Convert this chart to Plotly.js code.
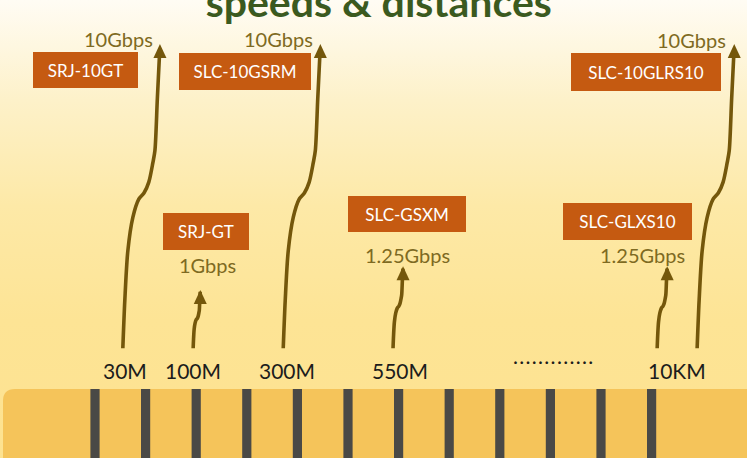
<!DOCTYPE html>
<html><head><meta charset="utf-8">
<script src="https://cdn.plot.ly/plotly-3.0.1.min.js"></script>
<style>
html,body{margin:0;padding:0;width:747px;height:458px;overflow:hidden;
background:linear-gradient(to bottom,#fffcf4 0%,#fdf1c9 22%,#fde9a7 45%,#fde495 70%,#fde290 100%);}
#chart{width:747px;height:458px;}
</style></head><body><div id="chart"></div>
<script>
// ---- data ----
const distances = ['30M', '100M', '300M', '550M', '10KM'];
const distancePos = [0.59, 1.94, 3.79, 6.03, 11.5];          // position on the ruler (tick index)
const products = ['SRJ-10GT', 'SRJ-GT', 'SLC-10GSRM', 'SLC-GSXM', 'SLC-GLXS10', 'SLC-10GLRS10'];
const speedsGbps = [10, 1, 10, 1.25, 1.25, 10];
const speedLabels = ['10Gbps', '1Gbps', '10Gbps', '1.25Gbps', '1.25Gbps', '10Gbps'];
const productPos = [0.55, 1.94, 3.72, 5.89, 11.11, 11.9];     // arrow foot on the ruler (tick index)
const rulerMarks = [0, 1, 2, 3, 4, 5, 6, 7, 8, 9, 10, 11];
const baseGbps = 0.58;
const moreLabel = '.\u200A.\u200A.\u200A.\u200A.\u200A.\u200A.\u200A.\u200A.\u200A.\u200A.\u200A.\u200A.';

// ---- layout helpers (pixel geometry of the figure) ----
const W = 747, H = 458;
const PX_TICK = 50.6, X0 = 95;          // ruler tick spacing / first tick
const PX_DEC = 246, Y1 = 290;           // pixels per decade / pixel row of 1 Gbps
const px = x => x / W, py = y => 1 - y / H;
const arrowColor = '#74570b';
const boxColor = '#c55a11';
const labelColor = '#7e6a22';

const boxGeom = [[85.5,70,105,36],[206,231.5,86,37],[245,71.5,132,37],[407,214,118,36],[627.5,221.5,129,37],[646,72,150,38]];
const speedGeom = [[118,39],[207,265],[278,39],[407,255],[642,255],[691,40]];
const profile = [[0,0],[0.158,0.054],[0.32,0.135],[0.43,0.27],[0.49,0.43],[0.51,0.57],[0.546,0.70],[0.61,0.81],[0.65,0.865],[0.82,0.93],[0.97,0.99]];

const traces = [];
products.forEach((p, i) => {
  const lb = Math.log10(baseGbps), lt = Math.log10(speedsGbps[i]);
  const hPx = (lt - lb) * PX_DEC;
  const shift = 0.122 * hPx / PX_TICK;
  const xs = profile.map(q => productPos[i] + q[1] * shift);
  const ys = profile.map(q => Math.pow(10, lb + q[0] * (lt - lb)));
  traces.push({type:'scatter', mode:'lines', x:xs, y:ys, hoverinfo:'skip',
    line:{color:arrowColor, width:3.6, shape:'spline', smoothing:0.8}});
  const tx = productPos[i] + shift;
  const hx = 6.5 / PX_TICK, hy = 14 / PX_DEC;
  traces.push({type:'scatter', mode:'lines', fill:'toself', fillcolor:arrowColor, hoverinfo:'skip',
    x:[tx, tx - hx, tx + hx, tx], y:[speedsGbps[i], Math.pow(10, lt - hy), Math.pow(10, lt - hy), speedsGbps[i]],
    line:{width:0, color:arrowColor}});
});

const shapes = [];
const stripTop = py(389), rx = 12 / W, ry = 12 / H, sx = 3 / W;
shapes.push({type:'path', xref:'paper', yref:'paper', layer:'below',
  path:`M ${sx},0 L ${sx},${stripTop - ry} Q ${sx},${stripTop} ${sx + rx},${stripTop} L 1.01,${stripTop} L 1.01,0 Z`,
  fillcolor:'#f5c45a', line:{width:0}});
rulerMarks.forEach(m => {
  const hw = 4.6 / PX_TICK;
  shapes.push({type:'rect', xref:'x', yref:'paper', x0:m - hw, x1:m + hw, y0:0, y1:stripTop,
    fillcolor:'#4a4946', line:{width:0}, layer:'below'});
});

const annotations = [];
products.forEach((p, i) => {
  const g = boxGeom[i];
  annotations.push({text:p, xref:'paper', yref:'paper', x:px(g[0]), y:py(g[1]), xanchor:'center', yanchor:'middle',
    showarrow:false, width:g[2], height:g[3], bgcolor:boxColor, borderpad:0, borderwidth:0,
    font:{family:'Lato', size:17, color:'#ffffff'}});
  const s = speedGeom[i];
  annotations.push({text:speedLabels[i], xref:'paper', yref:'paper', x:px(s[0]), y:py(s[1]), xanchor:'center', yanchor:'middle',
    showarrow:false, font:{family:'Lato', size:20, color:labelColor}});
});
distances.forEach((d, i) => {
  annotations.push({text:d, xref:'x', yref:'paper', x:distancePos[i], y:py(370), xanchor:'center', yanchor:'middle',
    showarrow:false, font:{family:'Lato', size:21, color:'#1c1c1c'}});
});
annotations.push({text:moreLabel, xref:'paper', yref:'paper', x:px(553), y:py(355), xanchor:'center', yanchor:'middle',
  showarrow:false, font:{family:'Lato', size:21, color:'#1c1c1c'}});

const layout = {
  width:W, height:H, margin:{l:0, r:0, t:0, b:0},
  paper_bgcolor:'rgba(0,0,0,0)', plot_bgcolor:'rgba(0,0,0,0)', showlegend:false,
  title:{text:'speeds & distances', x:0.507, xanchor:'center', y:0.995, yanchor:'middle', yref:'container',
    font:{family:'Lato', size:41, weight:'bold', color:'#3b5a1f'}},
  xaxis:{range:[(0 - X0) / PX_TICK, (W - X0) / PX_TICK], visible:false, fixedrange:true},
  yaxis:{type:'log', range:[(Y1 - H) / PX_DEC, Y1 / PX_DEC], visible:false, fixedrange:true},
  shapes:shapes, annotations:annotations
};
Plotly.newPlot('chart', traces, layout, {staticPlot:true, displayModeBar:false});
</script></body></html>
